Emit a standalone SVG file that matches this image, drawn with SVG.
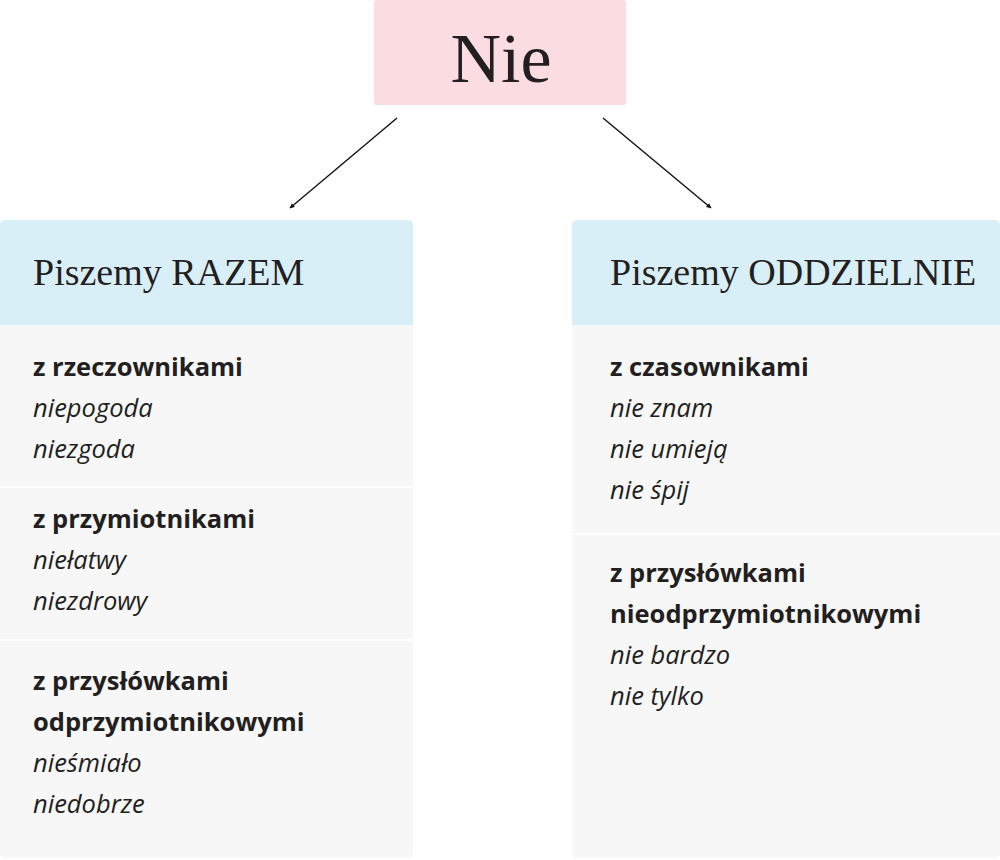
<svg xmlns="http://www.w3.org/2000/svg" width="1000" height="860" viewBox="0 0 1000 860">
<style>
.title{font-family:"Liberation Serif","DejaVu Serif",serif;fill:#231f20}
.hd{font-family:"Liberation Serif","DejaVu Serif",serif;font-size:38px;fill:#231f20}
.b{font-family:"Open Sans","Noto Sans",sans-serif;font-size:25.5px;font-weight:bold;fill:#231f20}
.i{font-family:"Open Sans","Noto Sans",sans-serif;font-size:25.5px;font-style:italic;fill:#231f20}
.hdbox{fill:#d9eff8}
.body{fill:#f7f7f7}
.div{stroke:#ffffff;stroke-width:2}
.conn{stroke:#111;stroke-width:1.4;fill:none;marker-end:url(#ah)}
</style>
<defs>
<marker id="ah" viewBox="0 0 10 10" refX="9" refY="5" markerWidth="5" markerHeight="5" orient="auto" markerUnits="userSpaceOnUse">
<path d="M0,0 L10,5 L0,10 z" fill="#111"/>
</marker>
</defs>
<rect width="1000" height="860" fill="#ffffff"/>
<g id="nie">
<rect x="374" y="0" width="252" height="105" rx="3" fill="#fbdde1"/>
<text class="title" x="501" y="82" font-size="70" text-anchor="middle">Nie</text>
</g>
<g id="connectors">
<line class="conn" x1="397" y1="118" x2="290" y2="208"/>
<line class="conn" x1="603" y1="118" x2="711" y2="208"/>
</g>
<g id="razem">
<rect class="body" x="0" y="220" width="413" height="638" rx="5"/>
<path class="hdbox" d="M0,225 a5,5 0 0 1 5,-5 H408 a5,5 0 0 1 5,5 V325 H0 z"/>
<text class="hd" x="33" y="285">Piszemy RAZEM</text>
<line class="div" x1="0" y1="487" x2="413" y2="487"/>
<line class="div" x1="0" y1="640" x2="413" y2="640"/>
<text class="b" x="33" y="376">z rzeczownikami</text>
<text class="i" x="33" y="417">niepogoda</text>
<text class="i" x="33" y="458">niezgoda</text>
<text class="b" x="33" y="528">z przymiotnikami</text>
<text class="i" x="33" y="569">niełatwy</text>
<text class="i" x="33" y="610">niezdrowy</text>
<text class="b" x="33" y="690">z przysłówkami</text>
<text class="b" x="33" y="731">odprzymiotnikowymi</text>
<text class="i" x="33" y="772">nieśmiało</text>
<text class="i" x="33" y="813">niedobrze</text>
</g>
<g id="oddzielnie">
<rect class="body" x="572" y="220" width="428" height="638" rx="5"/>
<path class="hdbox" d="M572,225 a5,5 0 0 1 5,-5 H995 a5,5 0 0 1 5,5 V325 H572 z"/>
<text class="hd" x="610" y="285">Piszemy ODDZIELNIE</text>
<line class="div" x1="572" y1="534" x2="1000" y2="534"/>
<text class="b" x="610" y="376">z czasownikami</text>
<text class="i" x="610" y="417">nie znam</text>
<text class="i" x="610" y="458">nie umieją</text>
<text class="i" x="610" y="499">nie śpij</text>
<text class="b" x="610" y="582">z przysłówkami</text>
<text class="b" x="610" y="623">nieodprzymiotnikowymi</text>
<text class="i" x="610" y="664">nie bardzo</text>
<text class="i" x="610" y="705">nie tylko</text>
</g>
</svg>
